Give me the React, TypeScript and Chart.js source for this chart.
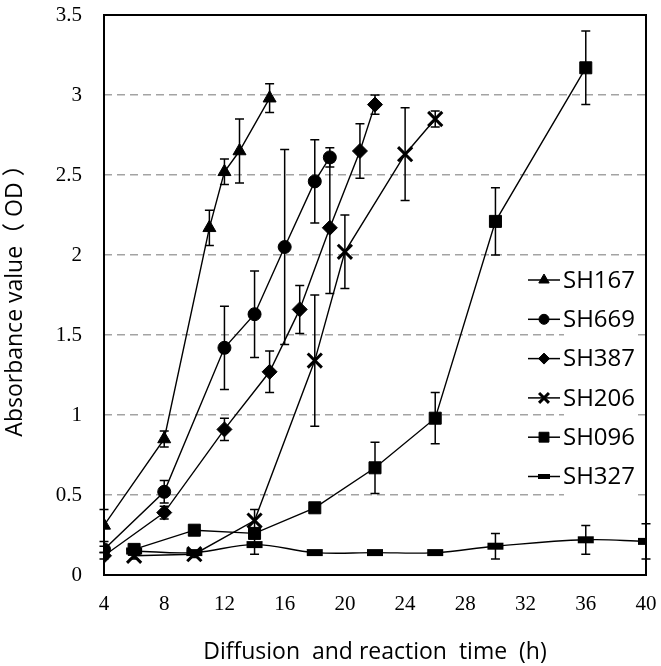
import React, { useEffect, useRef } from 'react';
import { Chart, registerables } from 'chart.js';
import { drawPoint } from 'chart.js/helpers';

Chart.register(...registerables);

// ---- data ----
const seriesNames = ['SH167', 'SH669', 'SH387', 'SH206', 'SH096', 'SH327'];

const sh167Hours = [4, 8, 11, 12, 13, 15];
const sh167Values = [0.31, 0.85, 2.17, 2.52, 2.65, 2.98];
const sh167Errors = [0.10, 0.05, 0.11, 0.08, 0.20, 0.09];

const sh669Hours = [4, 8, 12, 14, 16, 18, 19];
const sh669Values = [0.16, 0.52, 1.42, 1.63, 2.05, 2.46, 2.61];
const sh669Errors = [0.02, 0.07, 0.26, 0.27, 0.61, 0.26, 0.06];

const sh387Hours = [4, 8, 12, 15, 17, 19, 21, 22];
const sh387Values = [0.12, 0.39, 0.91, 1.27, 1.66, 2.17, 2.65, 2.94];
const sh387Errors = [0.02, 0.04, 0.07, 0.13, 0.15, 0.41, 0.17, 0.06];

const sh206Hours = [6, 10, 14, 18, 20, 24, 26];
const sh206Values = [0.12, 0.13, 0.34, 1.34, 2.02, 2.63, 2.85];
const sh206Errors = [0.02, 0.02, 0.07, 0.41, 0.23, 0.29, 0.05];

const sh096Hours = [6, 10, 14, 18, 22, 26, 30, 36];
const sh096Values = [0.16, 0.28, 0.26, 0.42, 0.67, 0.98, 2.21, 3.17];
const sh096Errors = [0.02, 0.02, 0.03, 0.02, 0.16, 0.16, 0.21, 0.23];

const sh327Hours = [6, 10, 14, 18, 22, 26, 30, 36, 40];
const sh327Values = [0.15, 0.14, 0.19, 0.14, 0.14, 0.14, 0.18, 0.22, 0.21];
const sh327Errors = [0.01, 0.01, 0.06, 0.01, 0.01, 0.01, 0.08, 0.09, 0.11];

const xMin = 4;
const xMax = 40;
const xStep = 4;
const yMin = 0;
const yMax = 3.5;
const yStep = 0.5;

const xTitle = 'Diffusion  and reaction  time  (h)';
const yTitle = 'Absorbance value（ OD ）';

// ---- styles ----
const SERIF = "'Liberation Serif', 'Times New Roman', serif";
const SANS = "'Open Sans', 'Noto Sans CJK SC', sans-serif";

const markerStyles = [
  { style: 'triangle', radius: 7.5, bw: 1, lr: 6 },
  { style: 'circle', radius: 6.5, bw: 1, lr: 5 },
  { style: 'rectRot', radius: 7.5, bw: 1, lr: 5.5 },
  { style: 'crossRot', radius: 10, bw: 3, lr: 7 },
  { style: 'rect', radius: 8.5, bw: 1, lr: 7 },
  { style: 'line', radius: 8, bw: 7, lr: 6 },
];

const seriesHours = [sh167Hours, sh669Hours, sh387Hours, sh206Hours, sh096Hours, sh327Hours];
const seriesValues = [sh167Values, sh669Values, sh387Values, sh206Values, sh096Values, sh327Values];
const seriesErrors = [sh167Errors, sh669Errors, sh387Errors, sh206Errors, sh096Errors, sh327Errors];

const errorBarPlugin = {
  id: 'errorBars',
  beforeDatasetsDraw(chart: any) {
    const { ctx } = chart;
    const xs = chart.scales.x;
    const ys = chart.scales.y;
    ctx.save();
    ctx.strokeStyle = '#000';
    ctx.lineWidth = 1.5;
    chart.data.datasets.forEach((ds: any) => {
      ds.data.forEach((p: any, j: number) => {
        const e = ds.errors[j];
        const px = xs.getPixelForValue(p.x);
        const top = ys.getPixelForValue(p.y + e);
        const bot = ys.getPixelForValue(p.y - e);
        ctx.beginPath();
        ctx.moveTo(px, top);
        ctx.lineTo(px, bot);
        ctx.moveTo(px - 4.5, top);
        ctx.lineTo(px + 4.5, top);
        ctx.moveTo(px - 4.5, bot);
        ctx.lineTo(px + 4.5, bot);
        ctx.stroke();
      });
    });
    ctx.restore();
  },
};

const frameAndLegendPlugin = {
  id: 'frameAndLegend',
  afterDraw(chart: any) {
    const { ctx, chartArea } = chart;
    const { left, top, right, bottom } = chartArea;
    ctx.save();
    // frame
    ctx.strokeStyle = '#000';
    ctx.lineWidth = 2;
    ctx.strokeRect(left, top, right - left, bottom - top);

    // legend
    const boxLeft = right - 82;
    const boxTop = top + 245;
    ctx.fillStyle = '#fff';
    ctx.fillRect(boxLeft, boxTop, 74, 240);
    const rowStart = top + 265;
    const rowGap = 39.3;
    const symLeft = right - 118;
    const symRight = right - 86;
    const textLeft = right - 83;
    ctx.font = `24px ${SANS}`;
    ctx.textBaseline = 'middle';
    ctx.textAlign = 'left';
    seriesNames.forEach((name, i) => {
      const yy = rowStart + i * rowGap;
      ctx.strokeStyle = '#000';
      ctx.lineWidth = 1.5;
      ctx.beginPath();
      ctx.moveTo(symLeft, yy);
      ctx.lineTo(symRight, yy);
      ctx.stroke();
      const m = markerStyles[i];
      ctx.fillStyle = '#000';
      ctx.strokeStyle = '#000';
      ctx.lineWidth = m.style === 'line' ? 5 : m.bw;
      drawPoint(ctx, { pointStyle: m.style, radius: m.lr, rotation: 0, borderWidth: m.bw } as any, (symLeft + symRight) / 2, yy);
      ctx.fillStyle = '#000';
      ctx.fillText(name, textLeft, yy + 1);
    });
    ctx.restore();
  },
};

const clearScalePadding = (s: any) => {
  s.paddingTop = 0;
  s.paddingBottom = 0;
  s.paddingLeft = 0;
  s.paddingRight = 0;
};

export default function App() {
  const ref = useRef<HTMLCanvasElement>(null);

  useEffect(() => {
    const datasets = seriesNames.map((name, i) => ({
      label: name,
      data: seriesHours[i].map((h, j) => ({ x: h, y: seriesValues[i][j] })),
      errors: seriesErrors[i],
      showLine: true,
      borderColor: '#000',
      backgroundColor: '#000',
      borderWidth: 1.4,
      pointStyle: markerStyles[i].style,
      pointRadius: markerStyles[i].radius,
      pointBorderWidth: markerStyles[i].bw,
      pointBackgroundColor: '#000',
      pointBorderColor: '#000',
      tension: name === 'SH327' ? 0.4 : 0,
    }));

    const chart = new Chart(ref.current!, {
      type: 'scatter',
      data: { datasets } as any,
      plugins: [errorBarPlugin, frameAndLegendPlugin],
      options: {
        responsive: false,
        animation: false,
        devicePixelRatio: 1,
        layout: { padding: { top: 13, right: 13, left: 0, bottom: 0 } },
        plugins: {
          legend: { display: false },
          tooltip: { enabled: false },
        },
        scales: {
          x: {
            type: 'linear',
            min: xMin,
            max: xMax,
            ticks: {
              stepSize: xStep,
              color: '#000',
              font: { family: SERIF, size: 21 },
              padding: 17,
              maxRotation: 0,
            },
            grid: { display: false, drawTicks: false },
            border: { display: false },
            title: {
              display: true,
              text: xTitle,
              color: '#000',
              font: { family: SANS, size: 23 },
              padding: { top: 0, bottom: 0 },
            },
            afterFit: (s: any) => {
              s.height = 91;
              clearScalePadding(s);
            },
          },
          y: {
            type: 'linear',
            min: yMin,
            max: yMax,
            ticks: {
              stepSize: yStep,
              color: '#000',
              font: { family: SERIF, size: 21 },
              padding: 22,
              callback: (v: any) => String(Math.round(Number(v) * 10) / 10),
            },
            grid: {
              drawTicks: false,
              lineWidth: 1.5,
              color: (c: any) =>
                c.tick && c.tick.value > yMin && c.tick.value < yMax ? '#a3a3a3' : 'rgba(0,0,0,0)',
            },
            border: { display: false, dash: [8, 5] },
            title: {
              display: true,
              text: yTitle,
              color: '#000',
              font: { family: SANS, size: 23 },
              padding: { top: 2, bottom: 0 },
            },
            afterFit: (s: any) => {
              s.width = 104;
              clearScalePadding(s);
            },
          },
        },
      } as any,
    });
    return () => chart.destroy();
  }, []);

  return (
    <div style={{ position: 'absolute', left: 0, top: 0, width: 661, height: 666, background: '#fff' }}>
      <canvas ref={ref} width={661} height={666} style={{ display: 'block' }} />
    </div>
  );
}
